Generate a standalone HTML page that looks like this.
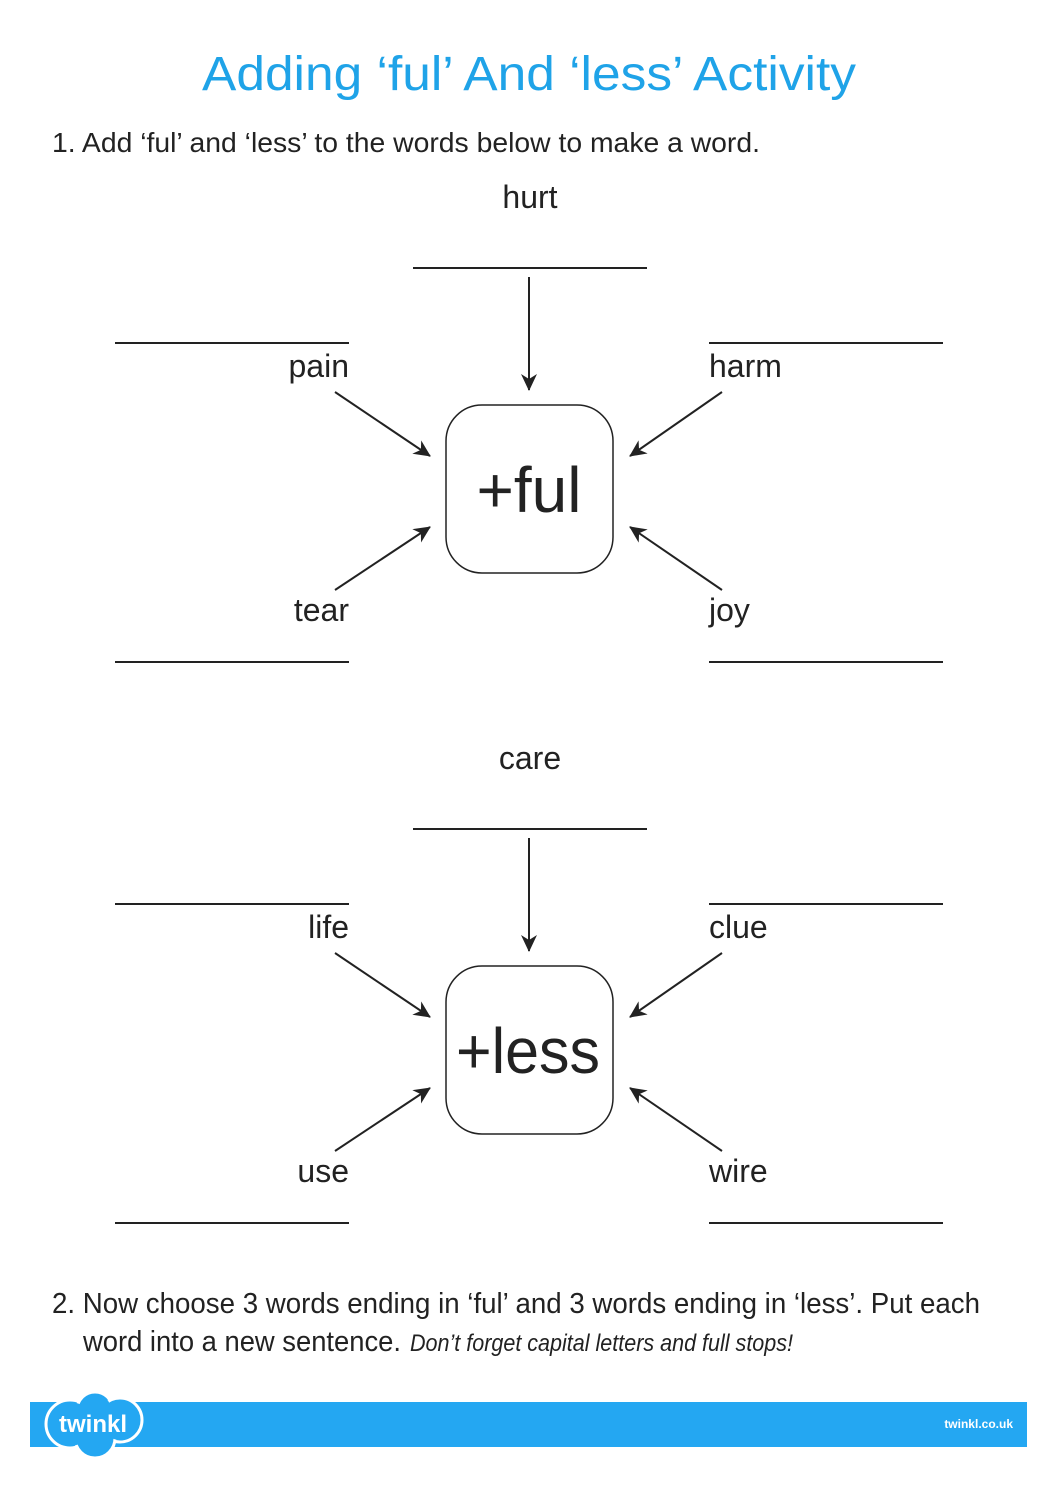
<!DOCTYPE html>
<html><head><meta charset="utf-8"><style>
html,body{margin:0;padding:0;background:#fff;}
svg{display:block;}
text{font-family:"Liberation Sans",sans-serif;}
</style></head><body>
<svg width="1058" height="1497" viewBox="0 0 1058 1497" xmlns="http://www.w3.org/2000/svg">
<defs>
<marker id="ah" markerWidth="10" markerHeight="10" refX="9" refY="5" orient="auto" markerUnits="userSpaceOnUse" viewBox="0 0 10 10">
<path d="M0,0 L10,5 L0,10 L3,5 Z" fill="#222"/>
</marker>
<marker id="a" markerWidth="18" markerHeight="16" refX="16" refY="8" orient="auto" markerUnits="userSpaceOnUse">
<path d="M0,0 L17,8 L0,16 L5,8 Z" fill="#222"/>
</marker>
</defs>
<text x="529" y="90" text-anchor="middle" font-size="48" fill="#1fa3e8" textLength="654" lengthAdjust="spacingAndGlyphs">Adding ‘ful’ And ‘less’ Activity</text>
<text x="52" y="152" font-size="28" fill="#222" textLength="708" lengthAdjust="spacingAndGlyphs">1. Add ‘ful’  and ‘less’ to the words below to make a word.</text>

<g id="g1" stroke="#222" stroke-width="2" fill="none">
<line x1="413" y1="268" x2="647" y2="268"/>
<line x1="115" y1="343" x2="349" y2="343"/>
<line x1="709" y1="343" x2="943" y2="343"/>
<line x1="115" y1="662" x2="349" y2="662"/>
<line x1="709" y1="662" x2="943" y2="662"/>
<line x1="529" y1="277" x2="529" y2="390" marker-end="url(#a)"/>
<line x1="335" y1="392" x2="430" y2="456" marker-end="url(#a)"/>
<line x1="722" y1="392" x2="630" y2="456" marker-end="url(#a)"/>
<line x1="335" y1="590" x2="430" y2="527" marker-end="url(#a)"/>
<line x1="722" y1="590" x2="630" y2="527" marker-end="url(#a)"/>
<rect x="446" y="405" width="167" height="168" rx="36" stroke-width="1.5"/>
</g>
<g font-size="32" fill="#222">
<text x="530" y="208" text-anchor="middle">hurt</text>
<text x="349" y="377" text-anchor="end">pain</text>
<text x="709" y="377">harm</text>
<text x="349" y="621" text-anchor="end">tear</text>
<text x="709" y="621">joy</text>
<text x="529" y="512" text-anchor="middle" font-size="64">+ful</text>
</g>

<g stroke="#222" stroke-width="2" fill="none" transform="translate(0,561)">
<line x1="413" y1="268" x2="647" y2="268"/>
<line x1="115" y1="343" x2="349" y2="343"/>
<line x1="709" y1="343" x2="943" y2="343"/>
<line x1="115" y1="662" x2="349" y2="662"/>
<line x1="709" y1="662" x2="943" y2="662"/>
<line x1="529" y1="277" x2="529" y2="390" marker-end="url(#a)"/>
<line x1="335" y1="392" x2="430" y2="456" marker-end="url(#a)"/>
<line x1="722" y1="392" x2="630" y2="456" marker-end="url(#a)"/>
<line x1="335" y1="590" x2="430" y2="527" marker-end="url(#a)"/>
<line x1="722" y1="590" x2="630" y2="527" marker-end="url(#a)"/>
<rect x="446" y="405" width="167" height="168" rx="36" stroke-width="1.5"/>
</g>
<g font-size="32" fill="#222" transform="translate(0,561)">
<text x="530" y="208" text-anchor="middle">care</text>
<text x="349" y="377" text-anchor="end">life</text>
<text x="709" y="377">clue</text>
<text x="349" y="621" text-anchor="end">use</text>
<text x="709" y="621">wire</text>
<text x="528" y="512" text-anchor="middle" font-size="64" textLength="144" lengthAdjust="spacingAndGlyphs">+less</text>
</g>

<text x="52" y="1313" font-size="29" fill="#222" textLength="928" lengthAdjust="spacingAndGlyphs">2. Now choose 3 words ending in ‘ful’ and 3 words ending in ‘less’.  Put each</text>
<text x="83" y="1351" font-size="29" fill="#222" textLength="318" lengthAdjust="spacingAndGlyphs">word into a new sentence.</text>
<text x="410" y="1351" font-size="24" font-style="italic" fill="#222" textLength="383" lengthAdjust="spacingAndGlyphs">Don’t forget capital letters and full stops!</text>

<rect x="30" y="1402" width="997" height="45" fill="#24a7f2"/>
<g fill="#24a7f2" stroke="#fff" stroke-width="3">
<circle cx="70" cy="1424" r="24"/>
<circle cx="95" cy="1410" r="18"/>
<circle cx="120" cy="1420" r="22"/>
<circle cx="95" cy="1438" r="20"/>
</g>
<g fill="#24a7f2">
<circle cx="70" cy="1424" r="22"/>
<circle cx="95" cy="1410" r="16"/>
<circle cx="120" cy="1420" r="20"/>
<circle cx="95" cy="1438" r="18"/>
</g>
<text x="93" y="1432" text-anchor="middle" font-size="24" font-weight="bold" fill="#fff">twinkl</text>
<text x="1013" y="1428" text-anchor="end" font-size="12" font-weight="bold" fill="#fff">twinkl.co.uk</text>
</svg>
</body></html>
